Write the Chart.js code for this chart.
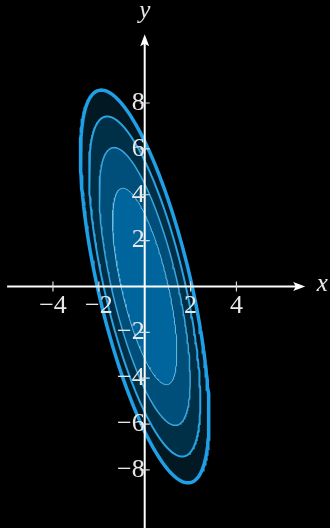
<!DOCTYPE html>
<html>
<head>
<meta charset="utf-8">
<script src="https://cdn.jsdelivr.net/npm/chart.js@4.4.1/dist/chart.umd.min.js"></script>
<style>
  html, body { margin: 0; padding: 0; background: #000; }
  #wrap { width: 330px; height: 528px; position: relative; }
</style>
</head>
<body>
<div id="wrap"><canvas id="contourChart"></canvas></div>
<script>
// level sets of q(x, y) = a*x^2 + 2*b*x*y + c*y^2
const levels = [1, 2, 3, 4];
const quadForm = [0.934, 0.206, 0.1]; // a, b, c
const xTicks = [-4, -2, 2, 4];
const yTicks = [-8, -6, -4, -2, 2, 4, 6, 8];

// view window and axis extents (data units)
const xRange = [-6.31, 8.08];
const yRange = [-10.53, 12.49];
const xAxisSpan = [-6, 7];
const yAxisSpan = [-11, 11];

// inner level first so it ends up on top
const fillColors = ['#00659d', '#004e7a', '#003048', '#021823'];
const lineColors = ['#6cbde3', '#3aa6de', '#29a3e3', '#1f9fe6'];
const lineWidths = [1, 1.5, 2, 3.5];

const serif = '"Liberation Serif", "DejaVu Serif", serif';

// outline of q(x, y) = level
function contour(level) {
  const [a, b, c] = quadForm;
  const d = c - b * b / a;
  const pts = [];
  const n = 240;
  for (let i = 0; i <= n; i++) {
    const t = (i / n) * 2 * Math.PI;
    const y = Math.sqrt(level / d) * Math.sin(t);
    const x = Math.sqrt(level / a) * Math.cos(t) - (b / a) * y;
    pts.push({ x, y });
  }
  return pts;
}

function fmt(v) {
  if (v === 0) return '';
  return v < 0 ? '\u2212' + Math.abs(v) : String(v);
}

const axesPlugin = {
  id: 'axes',
  afterDatasetsDraw(chart) {
    const { ctx, scales: { x, y } } = chart;
    const ox = x.getPixelForValue(0);
    const oy = y.getPixelForValue(0);
    const x0 = x.getPixelForValue(xAxisSpan[0]);
    const x1 = x.getPixelForValue(xAxisSpan[1]);
    const y0 = y.getPixelForValue(yAxisSpan[0]);
    const y1 = y.getPixelForValue(yAxisSpan[1]);

    ctx.save();
    ctx.strokeStyle = '#ffffff';
    ctx.fillStyle = '#ffffff';
    ctx.lineWidth = 2;
    ctx.beginPath();
    ctx.moveTo(x0, oy);
    ctx.lineTo(x1 - 6, oy);
    ctx.moveTo(ox, y0);
    ctx.lineTo(ox, y1 + 6);
    ctx.stroke();

    // arrow heads
    ctx.beginPath();
    ctx.moveTo(x1, oy);
    ctx.lineTo(x1 - 12, oy - 4.5);
    ctx.lineTo(x1 - 9.5, oy);
    ctx.lineTo(x1 - 12, oy + 4.5);
    ctx.closePath();
    ctx.fill();
    ctx.beginPath();
    ctx.moveTo(ox, y1);
    ctx.lineTo(ox - 4.5, y1 + 12);
    ctx.lineTo(ox, y1 + 9.5);
    ctx.lineTo(ox + 4.5, y1 + 12);
    ctx.closePath();
    ctx.fill();

    // tick marks
    ctx.lineWidth = 1.2;
    ctx.strokeStyle = '#dddddd';
    ctx.beginPath();
    xTicks.forEach(v => {
      const px = x.getPixelForValue(v);
      ctx.moveTo(px, oy - 5);
      ctx.lineTo(px, oy + 5);
    });
    yTicks.forEach(v => {
      const py = y.getPixelForValue(v);
      ctx.moveTo(ox - 5, py);
      ctx.lineTo(ox + 5, py);
    });
    ctx.stroke();

    // axis names
    ctx.font = 'italic 25px ' + serif;
    ctx.fillStyle = '#e8e8e8';
    ctx.textAlign = 'center';
    ctx.textBaseline = 'middle';
    ctx.fillText('x', x1 + 17, oy - 2);
    ctx.fillText('y', ox, y1 - 23);
    ctx.restore();
  }
};

const datasets = levels.slice().sort((p, q) => p - q).map((lv, i) => ({
  label: 'q = ' + lv,
  data: contour(lv),
  showLine: true,
  fill: 'shape',
  backgroundColor: fillColors[i],
  borderColor: lineColors[i],
  borderWidth: lineWidths[i],
  pointRadius: 0,
  tension: 0
}));

new Chart(document.getElementById('contourChart'), {
  type: 'scatter',
  data: { datasets },
  options: {
    responsive: true,
    maintainAspectRatio: false,
    animation: false,
    events: [],
    layout: { padding: 0 },
    plugins: {
      legend: { display: false },
      tooltip: { enabled: false }
    },
    scales: {
      x: {
        type: 'linear',
        min: xRange[0],
        max: xRange[1],
        position: { y: 0 },
        grid: { display: false, drawTicks: false },
        border: { display: false },
        afterBuildTicks: s => { s.ticks = xTicks.map(v => ({ value: v })); },
        afterFit: s => {
          s.height = 0;
          s.paddingLeft = s.paddingRight = s.paddingTop = s.paddingBottom = 0;
        },
        ticks: {
          z: 1,
          color: '#e8e8e8',
          font: { family: serif, size: 26 },
          padding: 4,
          maxRotation: 0,
          autoSkip: false,
          callback: fmt
        }
      },
      y: {
        type: 'linear',
        min: yRange[0],
        max: yRange[1],
        position: { x: 0 },
        grid: { display: false, drawTicks: false },
        border: { display: false },
        afterBuildTicks: s => { s.ticks = yTicks.map(v => ({ value: v })); },
        afterFit: s => {
          s.width = 0;
          s.paddingLeft = s.paddingRight = s.paddingTop = s.paddingBottom = 0;
        },
        ticks: {
          z: 1,
          color: '#e8e8e8',
          font: { family: serif, size: 26 },
          padding: 6,
          autoSkip: false,
          callback: fmt
        }
      }
    }
  },
  plugins: [axesPlugin]
});
</script>
</body>
</html>
